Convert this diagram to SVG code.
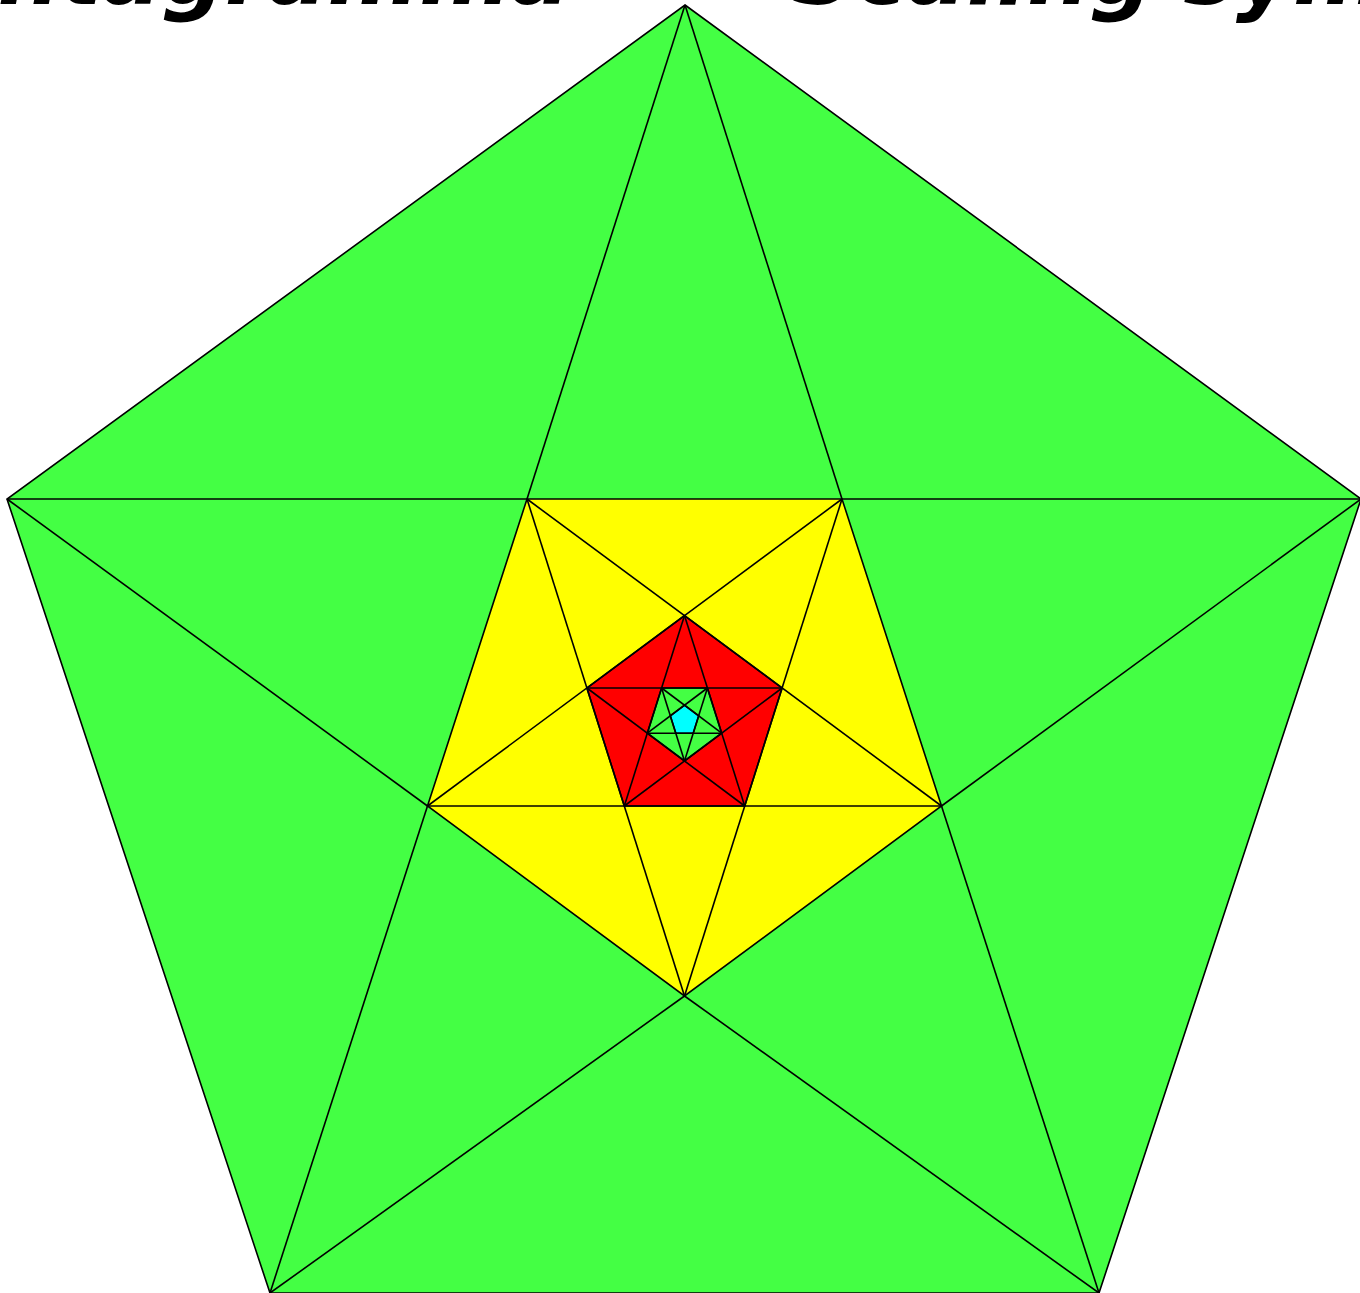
<svg xmlns="http://www.w3.org/2000/svg" width="1360" height="1293" viewBox="0 0 1360 1293">
<style>
.fill-outer{fill:#44ff44;stroke:#000;stroke-width:1.6}
.fill-yellow{fill:#ffff00;stroke:#000;stroke-width:1.6}
.fill-red{fill:#ff0000;stroke:#000;stroke-width:1.6}
.fill-green{fill:#44ff44;stroke:#000;stroke-width:1.6}
.fill-cyan{fill:#00ffff;stroke:#000;stroke-width:1.6}
.ln{stroke:#000;stroke-width:1.6;fill:none}
.title{font-family:"DejaVu Sans","Liberation Sans",sans-serif;font-weight:bold;font-style:italic;font-size:88px;fill:#000}
</style>
<rect width="1360" height="1293" fill="#ffffff"/>
<g id="title">
<text class="title" x="-124" y="4">Pentagramma <tspan x="640">—</tspan> <tspan x="792">Scaling symmetry</tspan></text>
</g>
<g id="pentagon-outer">
<polygon class="fill-outer" points="685,5 1361,499 1099,1293 270,1293 7,499"/>
</g>
<g id="pentagon-yellow">
<polygon class="fill-yellow" points="527,499 842,499 941.5,806 684.5,996 427.5,806"/>
</g>
<g id="pentagon-red">
<polygon class="fill-red" points="684.5,615.6 782.1,688 744.7,806 624.3,806 586.9,688"/>
</g>
<g id="pentagon-green">
<polygon class="fill-green" points="661.6,688 707.4,688 721.7,733.2 684.5,761 647.3,733.2"/>
</g>
<g id="pentagon-cyan">
<polygon class="fill-cyan" points="684.5,705.2 698.7,715.9 693.2,733.2 675.8,733.2 670.3,715.9"/>
</g>
<g id="connectors">
<line class="ln" x1="685" y1="5" x2="527" y2="499"/>
<line class="ln" x1="685" y1="5" x2="842" y2="499"/>
<line class="ln" x1="1361" y1="499" x2="842" y2="499"/>
<line class="ln" x1="1361" y1="499" x2="941.5" y2="806"/>
<line class="ln" x1="1099" y1="1293" x2="941.5" y2="806"/>
<line class="ln" x1="1099" y1="1293" x2="684.5" y2="996"/>
<line class="ln" x1="270" y1="1293" x2="684.5" y2="996"/>
<line class="ln" x1="270" y1="1293" x2="427.5" y2="806"/>
<line class="ln" x1="7" y1="499" x2="427.5" y2="806"/>
<line class="ln" x1="7" y1="499" x2="527" y2="499"/>
<line class="ln" x1="527" y1="499" x2="941.5" y2="806"/>
<line class="ln" x1="527" y1="499" x2="684.5" y2="996"/>
<line class="ln" x1="842" y1="499" x2="684.5" y2="996"/>
<line class="ln" x1="842" y1="499" x2="427.5" y2="806"/>
<line class="ln" x1="427.5" y1="806" x2="941.5" y2="806"/>
<line class="ln" x1="684.5" y1="615.6" x2="744.7" y2="806"/>
<line class="ln" x1="684.5" y1="615.6" x2="624.3" y2="806"/>
<line class="ln" x1="782.1" y1="688" x2="624.3" y2="806"/>
<line class="ln" x1="782.1" y1="688" x2="586.9" y2="688"/>
<line class="ln" x1="586.9" y1="688" x2="744.7" y2="806"/>
<line class="ln" x1="661.6" y1="688" x2="721.7" y2="733.2"/>
<line class="ln" x1="661.6" y1="688" x2="684.5" y2="761"/>
<line class="ln" x1="707.4" y1="688" x2="684.5" y2="761"/>
<line class="ln" x1="707.4" y1="688" x2="647.3" y2="733.2"/>
<line class="ln" x1="647.3" y1="733.2" x2="721.7" y2="733.2"/>
</g>
</svg>
